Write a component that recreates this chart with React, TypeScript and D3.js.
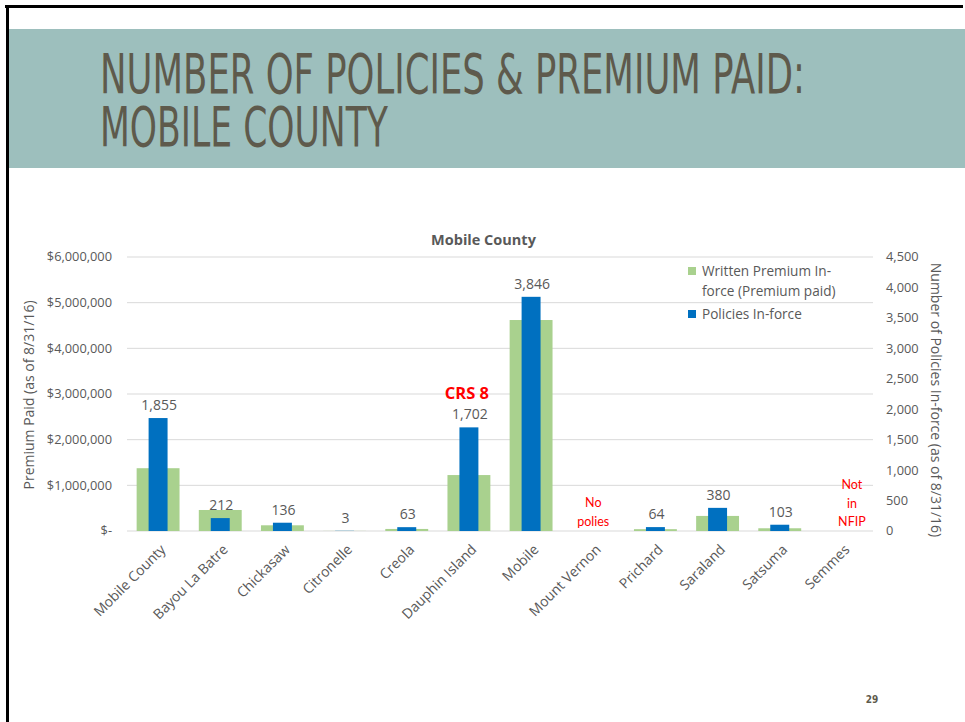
import React from "react";
import * as d3 from "d3";

const categories = ["Mobile County", "Bayou La Batre", "Chickasaw", "Citronelle", "Creola", "Dauphin Island", "Mobile", "Mount Vernon", "Prichard", "Saraland", "Satsuma", "Semmes"];
const premiumPaid: (number | null)[] = [1375000, 460000, 125000, 2000, 45000, 1225000, 4620000, null, 40000, 330000, 60000, null];
const policiesInForce: (number | null)[] = [1855, 212, 136, 3, 63, 1702, 3846, null, 64, 380, 103, null];
const leftTicks = [0, 1000000, 2000000, 3000000, 4000000, 5000000, 6000000];
const rightTicks = [0, 500, 1000, 1500, 2000, 2500, 3000, 3500, 4000, 4500];
const titleLines = ["NUMBER OF POLICIES & PREMIUM PAID:", "MOBILE COUNTY"];
const chartTitle = "Mobile County";
const legendLabels = [["Written Premium In-", "force (Premium paid)"], ["Policies In-force"]];
const leftAxisTitle = "Premium Paid (as of 8/31/16)";
const rightAxisTitle = "Number of Policies In-force (as of 8/31/16)";
const annotations = [
  { cat: "Dauphin Island", lines: ["CRS 8"], bold: true },
  { cat: "Mount Vernon", lines: ["No", "polies"], bold: false },
  { cat: "Semmes", lines: ["Not", "in", "NFIP"], bold: false },
];

const GREEN = "#a9d18e";
const BLUE = "#0070c0";
const GRAY = "#595959";
const FONT = "'Open Sans', 'Noto Sans', sans-serif";
const TITLE_FONT = "'Liberation Sans Narrow', 'DejaVu Sans Condensed', sans-serif";

export default function App() {
  const x = d3.scaleBand<string>().domain(categories).range([127, 873]).padding(0);
  const yL = d3.scaleLinear().domain([0, 6000000]).range([531, 257]);
  const yR = d3.scaleLinear().domain([0, 4500]).range([531, 257]);
  const bw = x.bandwidth();
  const gW = bw * 0.69;
  const bW = bw * 0.305;
  const fmtL = (v: number) => (v === 0 ? "$-" : d3.format("$,")(v));
  const fmtR = d3.format(",");
  const cx = (c: string) => (x(c) as number) + bw / 2;
  const titleWidths = [705, 288];

  return (
    <svg width={965} height={722} style={{ position: "absolute", left: 0, top: 0, background: "#fff" }} fontFamily={FONT}>
      <rect x={0} y={0} width={965} height={722} fill="#fff" />
      {/* header band */}
      <rect x={8} y={29} width={957} height={139} fill="#9dbfbd" />
      <rect x={5} y={5} width={958} height={3} fill="#000" />
      <rect x={6} y={5} width={3} height={717} fill="#000" />
      <text transform="translate(100,93) scale(1,1.4)" fontSize={40} fill="#5e5a4c" fontFamily={TITLE_FONT}>
        {titleLines.map((l, k) => (
          <tspan key={k} x={0} y={k * (53 / 1.4)} textLength={titleWidths[k]} lengthAdjust="spacingAndGlyphs">{l}</tspan>
        ))}
      </text>

      {/* chart title */}
      <text x={483.5} y={245} textAnchor="middle" fontSize={14.5} fontWeight="bold" fill={GRAY}>{chartTitle}</text>

      {/* gridlines */}
      {leftTicks.map((t) => (
        <line key={t} x1={127} x2={873} y1={yL(t)} y2={yL(t)} stroke="#d9d9d9" strokeWidth={1} />
      ))}

      {/* left ticks */}
      {leftTicks.map((t) => (
        <text key={t} x={112} y={yL(t)} dy="0.35em" textAnchor="end" fontSize={12.8} fill={GRAY}>{fmtL(t)}</text>
      ))}
      {/* right ticks */}
      {rightTicks.map((t) => (
        <text key={t} x={886} y={yR(t)} dy="0.35em" textAnchor="start" fontSize={12.8} fill={GRAY}>{fmtR(t)}</text>
      ))}

      {/* axis titles */}
      <text transform={`translate(29,395) rotate(-90)`} textAnchor="middle" dy="0.35em" fontSize={14} fill={GRAY}>{leftAxisTitle}</text>
      <text transform={`translate(936,400) rotate(90)`} textAnchor="middle" dy="0.35em" fontSize={14} fill={GRAY}>{rightAxisTitle}</text>

      {/* bars */}
      {categories.map((c, i) => {
        const v = premiumPaid[i];
        if (v == null) return null;
        return <rect key={"g" + c} x={cx(c) - gW / 2} y={yL(v)} width={gW} height={yL(0) - yL(v)} fill={GREEN} />;
      })}
      {categories.map((c, i) => {
        const v = policiesInForce[i];
        if (v == null) return null;
        return <rect key={"b" + c} x={cx(c) - bW / 2} y={yR(v)} width={bW} height={yR(0) - yR(v)} fill={BLUE} />;
      })}
      {/* data labels */}
      {categories.map((c, i) => {
        const v = policiesInForce[i];
        if (v == null) return null;
        return <text key={"l" + c} x={cx(c) + 1} y={yR(v) - 8} textAnchor="middle" fontSize={14} fill={GRAY}>{fmtR(v)}</text>;
      })}

      {/* x labels */}
      {categories.map((c) => (
        <text key={"x" + c} transform={`translate(${cx(c) + 5},${547}) rotate(-45)`} textAnchor="end" dy="0.35em" fontSize={14} fill={GRAY}>{c}</text>
      ))}

      {/* annotations */}
      <text x={cx("Dauphin Island") - 2} y={399} textAnchor="middle" fontSize={16.5} fontWeight="bold" fill="#ff0000">{annotations[0].lines[0]}</text>
      {annotations[1].lines.map((l, k) => (
        <text key={l} x={cx("Mount Vernon")} y={503 + k * 19} dy="0.35em" textAnchor="middle" fontSize={12.5} fill="#ff0000" fontFamily="Lato, sans-serif">{l}</text>
      ))}
      {annotations[2].lines.map((l, k) => (
        <text key={l} x={cx("Semmes") + 10} y={485 + k * 18.5} dy="0.35em" textAnchor="middle" fontSize={12.5} fill="#ff0000" fontFamily="Lato, sans-serif">{l}</text>
      ))}

      {/* legend */}
      <rect x={688} y={267} width={8} height={8} fill={GREEN} />
      <text x={702} y={271} dy="0.35em" fontSize={13.6} fill={GRAY}>{legendLabels[0][0]}</text>
      <text x={702} y={291} dy="0.35em" fontSize={13.6} fill={GRAY}>{legendLabels[0][1]}</text>
      <rect x={688} y={310} width={8} height={8} fill={BLUE} />
      <text x={702} y={314} dy="0.35em" fontSize={13.6} fill={GRAY}>{legendLabels[1][0]}</text>

      {/* page number */}
      <text x={872} y={703} textAnchor="middle" fontSize={10} fontWeight="bold" fill="#5e5a4c" fontFamily={TITLE_FONT}>29</text>
    </svg>
  );
}
